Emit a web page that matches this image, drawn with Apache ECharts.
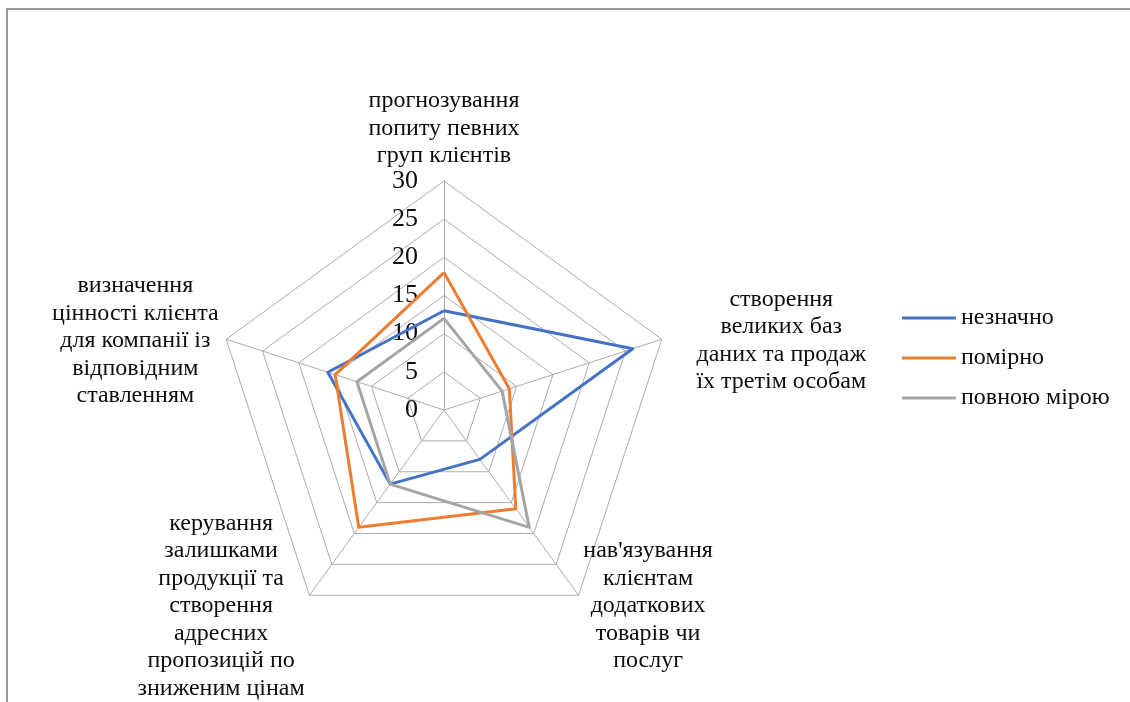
<!DOCTYPE html>
<html>
<head>
<meta charset="utf-8">
<script src="https://cdn.jsdelivr.net/npm/echarts@6/dist/echarts.min.js"></script>
<style>
  html, body { margin: 0; padding: 0; background: #fff; }
  #chart { position: absolute; left: 0; top: 0; width: 1130px; height: 702px; }
  #frame {
    position: absolute; left: 6px; top: 8px; width: 1130px; height: 702px;
    border-left: 2px solid #9a9a9a; border-top: 2px solid #9a9a9a;
    pointer-events: none; box-sizing: border-box;
  }
</style>
</head>
<body>
<div id="chart"></div>
<div id="frame"></div>
<script>
// Axes, listed in drawing order (counter-clockwise from the top axis)
const categories = [
  'прогнозування\nпопиту певних\nгруп клієнтів',
  'визначення\nцінності клієнта\nдля компанії із\nвідповідним\nставленням',
  'керування\nзалишками\nпродукції та\nстворення\nадресних\nпропозицій по\nзниженим цінам',
  "нав'язування\nклієнтам\nдодаткових\nтоварів чи\nпослуг",
  'створення\nвеликих баз\nданих та продаж\nїх третім особам'
];
const seriesNames = ['незначно', 'помірно', 'повною мірою'];
const valuesSlight = [13, 16, 12, 8, 26];
const valuesModerate = [18, 15, 19, 16, 9];
const valuesFull = [12, 12, 12, 19, 8];
const scaleMax = 30;

const serif = '"Liberation Serif", "DejaVu Serif", serif';
const gridColor = '#ababab';
const textColor = '#0d0d0d';
const palette = ['#4472c4', '#ed7d31', '#a5a5a5'];

const chart = echarts.init(document.getElementById('chart'));

const indicators = categories.map((name, i) => ({
  name: name,
  min: 0,
  max: scaleMax,
  axisLabel: { show: i === 0 }
}));

const nameStyle = { align: 'center', fontFamily: serif, fontSize: 24, lineHeight: 27.5, color: textColor };

chart.setOption({
  animation: false,
  color: palette,
  legend: {
    orient: 'vertical',
    left: 897,
    top: 301,
    icon: 'rect',
    itemWidth: 54,
    itemHeight: 3,
    itemGap: 16,
    data: seriesNames,
    textStyle: { fontFamily: serif, fontSize: 24, color: textColor, lineHeight: 24 }
  },
  radar: {
    center: [444, 410],
    radius: 229,
    startAngle: 90,
    shape: 'polygon',
    splitNumber: 6,
    nameGap: 8,
    indicator: indicators,
    axisName: {
      color: textColor,
      fontFamily: serif,
      fontSize: 24,
      padding: [8, 0, 0, 0],
      formatter: function (name) {
        const key = name === categories[4] ? 'p' : 'c';
        return name.split('\n').map(l => '{' + key + '|' + l + '}').join('\n');
      },
      rich: {
        c: nameStyle,
        p: Object.assign({}, nameStyle, { padding: [0, 0, 0, 27] })
      }
    },
    axisLabel: {
      margin: 26,
      fontFamily: serif,
      fontSize: 26,
      color: textColor,
      padding: [7, 0, 0, 0]
    },
    axisTick: { show: false },
    axisLine: { lineStyle: { color: gridColor, width: 1 } },
    splitLine: { lineStyle: { color: gridColor, width: 1 } },
    splitArea: { show: false }
  },
  series: [{
    type: 'radar',
    symbol: 'none',
    lineStyle: { width: 3 },
    data: [
      { name: seriesNames[0], value: valuesSlight, lineStyle: { color: palette[0], width: 3 }, itemStyle: { color: palette[0] } },
      { name: seriesNames[1], value: valuesModerate, lineStyle: { color: palette[1], width: 3 }, itemStyle: { color: palette[1] } },
      { name: seriesNames[2], value: valuesFull, lineStyle: { color: palette[2], width: 3 }, itemStyle: { color: palette[2] } }
    ]
  }]
});
</script>
</body>
</html>
